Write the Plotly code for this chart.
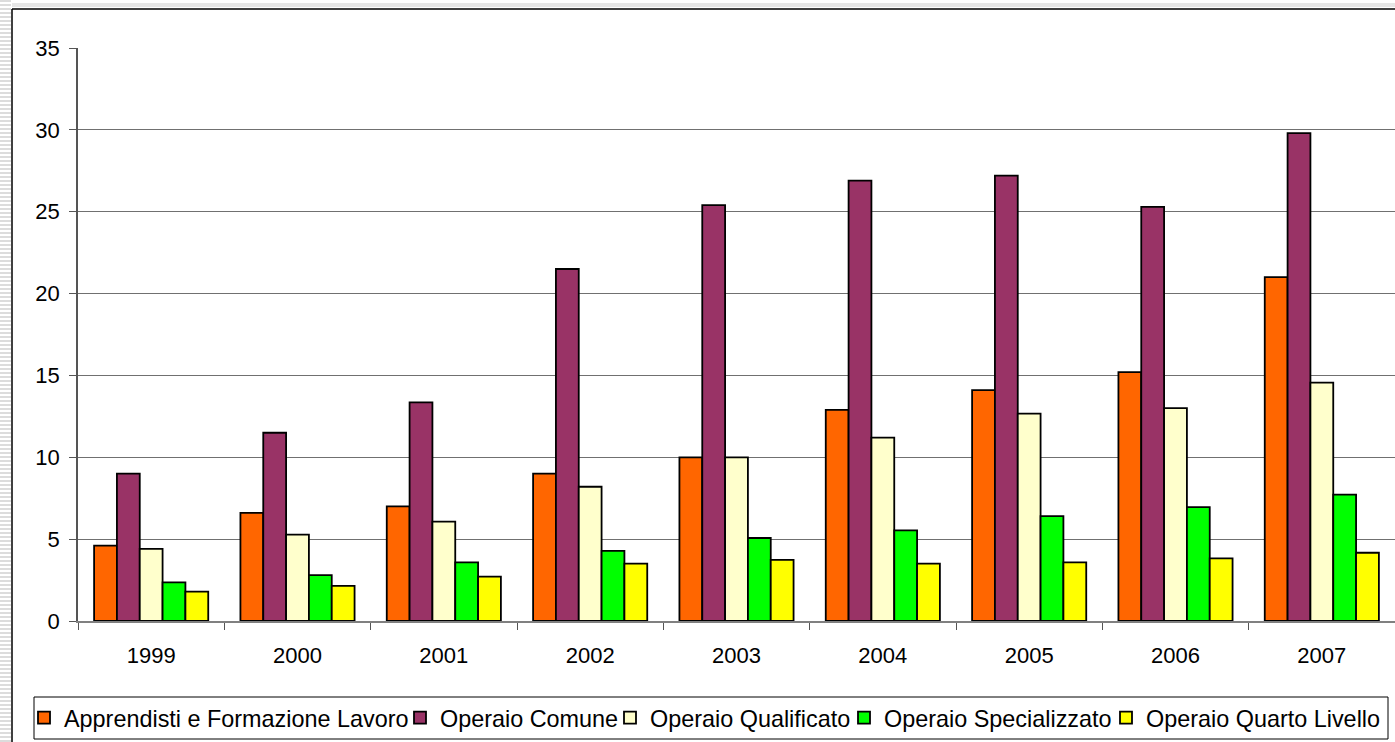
import plotly.graph_objects as go

years = ["1999", "2000", "2001", "2002", "2003", "2004", "2005", "2006", "2007"]
apprendisti = [4.6, 6.6, 7.0, 9.0, 10.0, 12.9, 14.1, 15.2, 21.0]
comune = [9.0, 11.5, 13.35, 21.5, 25.4, 26.9, 27.2, 25.3, 29.8]
qualificato = [4.4, 5.27, 6.07, 8.2, 10.0, 11.2, 12.67, 13.0, 14.56]
specializzato = [2.36, 2.8, 3.58, 4.28, 5.07, 5.54, 6.4, 6.96, 7.72]
quarto = [1.8, 2.15, 2.71, 3.5, 3.73, 3.5, 3.58, 3.83, 4.17]

series = [
    ("Apprendisti e Formazione Lavoro", apprendisti, "#FF6600"),
    ("Operaio Comune", comune, "#993366"),
    ("Operaio Qualificato", qualificato, "#FFFFCC"),
    ("Operaio Specializzato", specializzato, "#00FF00"),
    ("Operaio Quarto Livello", quarto, "#FFFF00"),
]
legend_left_px = [24, 400, 610, 844, 1106]

W, H = 1395, 742
L, R, T, B = 78, 0, 48, 121
pw = W - L - R
ph = H - T - B

def px(x):
    return (x - L) / pw

def py(y):
    return (H - B - y) / ph

fig = go.Figure()
legend_ids = ["legend", "legend2", "legend3", "legend4", "legend5"]
for (name, vals, col), lid in zip(series, legend_ids):
    fig.add_trace(go.Bar(
        x=years, y=vals, name=name, legend=lid,
        marker=dict(color=col, line=dict(color="#000000", width=1.8)),
    ))

shapes = []
# left striped margin
for yy in range(0, H, 4):
    shapes.append(dict(type="line", xref="paper", yref="paper",
                       x0=px(0), x1=px(11), y0=py(yy + 1), y1=py(yy + 1),
                       line=dict(color="#dcdcdc", width=2), layer="below"))
# top stripe
shapes.append(dict(type="rect", xref="paper", yref="paper",
                   x0=px(12), x1=px(W), y0=py(3), y1=py(7),
                   fillcolor="#e6e6e6", line=dict(width=0), layer="below"))
# outer frame
shapes.append(dict(type="line", xref="paper", yref="paper",
                   x0=px(12), x1=px(12), y0=py(9), y1=py(H),
                   line=dict(color="#000000", width=1.5)))
shapes.append(dict(type="line", xref="paper", yref="paper",
                   x0=px(12), x1=px(W), y0=py(9), y1=py(9),
                   line=dict(color="#000000", width=1.5)))
# legend box
shapes.append(dict(type="rect", xref="paper", yref="paper",
                   x0=px(34), x1=px(1388), y0=py(697), y1=py(739),
                   line=dict(color="#000000", width=1), fillcolor="rgba(0,0,0,0)"))

layout_legends = {}
for lid, lx in zip(legend_ids, legend_left_px):
    layout_legends[lid] = dict(orientation="h", x=px(lx), xanchor="left",
                               y=py(696), yanchor="top",
                               font=dict(size=23.4), itemwidth=30,
                               bgcolor="rgba(0,0,0,0)", borderwidth=0)

fig.update_layout(
    width=W, height=H,
    margin=dict(l=L, r=R, t=T, b=B, pad=0),
    paper_bgcolor="white", plot_bgcolor="white",
    barmode="group", bargap=0.22, bargroupgap=0,
    font=dict(family="Liberation Sans, Arial, sans-serif", size=22, color="#000000"),
    showlegend=True,
    shapes=shapes,
    xaxis=dict(type="category", tickson="boundaries", ticks="outside", ticklen=7,
               tickcolor="#555555", showline=True, linecolor="#808080", linewidth=1.5,
               showgrid=False, tickfont=dict(size=22), range=[-0.5, 8.5],
               ticklabelstandoff=14),
    yaxis=dict(range=[0, 35], tickvals=[0, 5, 10, 15, 20, 25, 30, 35],
               ticks="outside", ticklen=7, tickcolor="#555555",
               showline=True, linecolor="#555555", linewidth=1.5,
               showgrid=True, gridcolor="#707070", gridwidth=1.2,
               tickfont=dict(size=22), zeroline=False, ticklabelstandoff=5),
    **layout_legends,
)

fig.write_html("out.html")
